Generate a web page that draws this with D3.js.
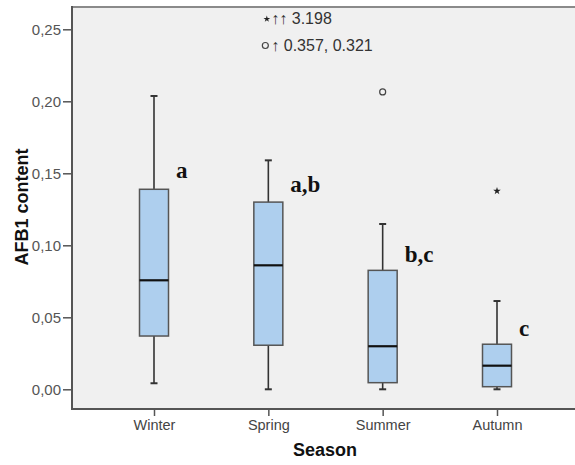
<!DOCTYPE html>
<html>
<head>
<meta charset="utf-8">
<script src="https://cdn.jsdelivr.net/npm/d3@7"></script>
<style>
  body { margin: 0; background: #fff; }
  svg { display: block; }
</style>
</head>
<body>
<svg width="575" height="465"></svg>
<script>
// Box plot data, one entry per season
var seasons = ['Winter', 'Spring', 'Summer', 'Autumn'];
var whiskerLow  = [0.0042, 0.0000, 0.0000, 0.0000];
var q1Values    = [0.0370, 0.0306, 0.0046, 0.0018];
var medians     = [0.0757, 0.0861, 0.0299, 0.0164];
var q3Values    = [0.1389, 0.1300, 0.0826, 0.0313];
var whiskerHigh = [0.2037, 0.1590, 0.1148, 0.0613];

// outliers (circles) and extremes (stars)
var outliers = [{season: 'Summer', value: 0.2065}];
var extremes = [{season: 'Autumn', value: 0.1377}];

// significance letters and the value where they sit
var groupLetters = ['a', 'a,b', 'b,c', 'c'];
var letterValues = [0.1467, 0.1370, 0.0884, 0.0373];

var yTicks = [0, 0.05, 0.10, 0.15, 0.20, 0.25];

var svg = d3.select('svg');
var svgWidth = +svg.attr('width');

var plot = {l: 72, t: 7, b: 409};

var y = d3.scaleLinear().domain([0, 0.25]).range([389.3, 29.3]);
var x = d3.scalePoint().domain(seasons).range([154, 497]);
var boxW = 29, capW = 7;

// plot background and frame
svg.append('rect')
    .attr('x', plot.l).attr('y', plot.t)
    .attr('width', svgWidth - plot.l).attr('height', plot.b - plot.t)
    .attr('fill', '#f0f0f0');
svg.append('line')
    .attr('x1', plot.l).attr('x2', svgWidth)
    .attr('y1', plot.t).attr('y2', plot.t)
    .attr('stroke', '#8a8a8a').attr('stroke-width', 2);

// y axis
var yAxis = d3.axisLeft(y)
    .tickValues(yTicks)
    .tickSize(9)
    .tickPadding(2)
    .tickFormat(function(d) { return d3.format('.2f')(d).replace('.', ','); });
var yG = svg.append('g')
    .attr('transform', 'translate(' + plot.l + ',0)')
    .call(yAxis);
yG.select('.domain').remove();
yG.selectAll('.tick line').attr('stroke', '#555').attr('stroke-width', 1.5);
yG.selectAll('.tick text')
    .attr('fill', '#555')
    .style('font-family', 'Arial, "Liberation Sans", sans-serif')
    .style('font-size', '15px');

// x axis
var xAxis = d3.axisBottom(x).tickSize(7).tickPadding(4);
var xG = svg.append('g')
    .attr('transform', 'translate(0,' + plot.b + ')')
    .call(xAxis);
xG.select('.domain').remove();
xG.selectAll('.tick line').attr('stroke', '#555').attr('stroke-width', 1.5);
xG.selectAll('.tick text')
    .attr('fill', '#444')
    .style('font-family', 'Arial, "Liberation Sans", sans-serif')
    .style('font-size', '14.5px');

// frame lines left and bottom
svg.append('line')
    .attr('x1', plot.l).attr('x2', plot.l)
    .attr('y1', plot.t - 1).attr('y2', plot.b + 1)
    .attr('stroke', '#555').attr('stroke-width', 2);
svg.append('line')
    .attr('x1', plot.l).attr('x2', svgWidth)
    .attr('y1', plot.b).attr('y2', plot.b)
    .attr('stroke', '#555').attr('stroke-width', 2);

// boxes
var boxes = seasons.map(function(s, i) {
    return {season: s, lo: whiskerLow[i], q1: q1Values[i], med: medians[i],
            q3: q3Values[i], hi: whiskerHigh[i]};
});

var boxG = svg.selectAll('.box')
    .data(boxes)
    .enter()
    .append('g')
    .attr('class', 'box');

// whiskers
boxG.append('line')
    .attr('x1', function(d) { return x(d.season); })
    .attr('x2', function(d) { return x(d.season); })
    .attr('y1', function(d) { return y(d.hi); })
    .attr('y2', function(d) { return y(d.lo); })
    .attr('stroke', '#333').attr('stroke-width', 1.6);
boxG.append('line')
    .attr('x1', function(d) { return x(d.season) - capW / 2; })
    .attr('x2', function(d) { return x(d.season) + capW / 2; })
    .attr('y1', function(d) { return y(d.hi); })
    .attr('y2', function(d) { return y(d.hi); })
    .attr('stroke', '#333').attr('stroke-width', 2);
boxG.append('line')
    .attr('x1', function(d) { return x(d.season) - capW / 2; })
    .attr('x2', function(d) { return x(d.season) + capW / 2; })
    .attr('y1', function(d) { return y(d.lo); })
    .attr('y2', function(d) { return y(d.lo); })
    .attr('stroke', '#333').attr('stroke-width', 2);

boxG.append('rect')
    .attr('x', function(d) { return x(d.season) - boxW / 2; })
    .attr('y', function(d) { return y(d.q3); })
    .attr('width', boxW)
    .attr('height', function(d) { return y(d.q1) - y(d.q3); })
    .attr('fill', '#aecfee')
    .attr('stroke', '#555').attr('stroke-width', 1.5);

boxG.append('line')
    .attr('x1', function(d) { return x(d.season) - boxW / 2; })
    .attr('x2', function(d) { return x(d.season) + boxW / 2; })
    .attr('y1', function(d) { return y(d.med); })
    .attr('y2', function(d) { return y(d.med); })
    .attr('stroke', '#111').attr('stroke-width', 2.2);

// outliers
svg.selectAll('.outlier')
    .data(outliers)
    .enter()
    .append('circle')
    .attr('class', 'outlier')
    .attr('cx', function(d) { return x(d.season); })
    .attr('cy', function(d) { return y(d.value); })
    .attr('r', 3)
    .attr('fill', 'none')
    .attr('stroke', '#444').attr('stroke-width', 1.2);

// extremes
svg.selectAll('.extreme')
    .data(extremes)
    .enter()
    .append('path')
    .attr('class', 'extreme')
    .attr('transform', function(d) { return 'translate(' + x(d.season) + ',' + y(d.value) + ')'; })
    .attr('d', d3.symbol().type(d3.symbolStar).size(18))
    .attr('fill', '#222');

// off-scale values noted at the top of Spring
var topG = svg.append('g')
    .style('font-family', 'Arial, "Liberation Sans", sans-serif')
    .style('font-size', '16px')
    .attr('fill', '#333');
topG.append('path')
    .attr('transform', 'translate(' + (x('Spring') - 1.5) + ',19)')
    .attr('d', d3.symbol().type(d3.symbolStar).size(14))
    .attr('fill', '#222');
topG.append('text')
    .attr('x', x('Spring') + 3).attr('y', 24)
    .text('\u2191\u2191 3.198');
topG.append('circle')
    .attr('cx', x('Spring') - 3).attr('cy', 45.5).attr('r', 3)
    .attr('fill', 'none').attr('stroke', '#444').attr('stroke-width', 1.2);
topG.append('text')
    .attr('x', x('Spring') + 3).attr('y', 51)
    .text('\u2191 0.357, 0.321');

// significance letters
svg.selectAll('.sig')
    .data(seasons)
    .enter()
    .append('text')
    .attr('class', 'sig')
    .attr('x', function(d) { return x(d) + 22; })
    .attr('y', function(d, i) { return y(letterValues[i]); })
    .style('font-family', '"Times New Roman", "Liberation Serif", serif')
    .style('font-weight', 'bold')
    .style('font-size', '23px')
    .attr('fill', '#111')
    .text(function(d, i) { return groupLetters[i]; });

// axis titles
svg.append('text')
    .attr('x', 325).attr('y', 456)
    .attr('text-anchor', 'middle')
    .style('font-family', 'Arial, "Liberation Sans", sans-serif')
    .style('font-weight', 'bold')
    .style('font-size', '18px')
    .attr('fill', '#111')
    .text('Season');
svg.append('text')
    .attr('transform', 'translate(28,207) rotate(-90)')
    .attr('text-anchor', 'middle')
    .style('font-family', 'Arial, "Liberation Sans", sans-serif')
    .style('font-weight', 'bold')
    .style('font-size', '18px')
    .attr('fill', '#111')
    .text('AFB1 content');
</script>
</body>
</html>
